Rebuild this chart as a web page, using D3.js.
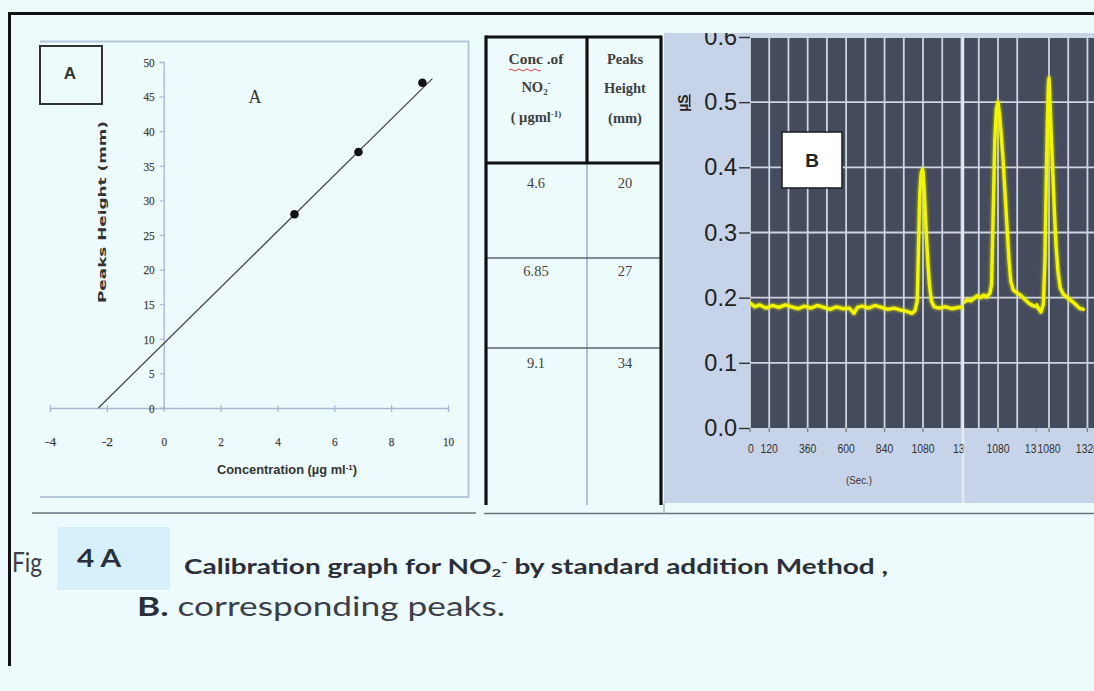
<!DOCTYPE html>
<html>
<head>
<meta charset="utf-8">
<script src="https://cdn.jsdelivr.net/npm/d3@7/dist/d3.min.js"></script>
<style>
  html, body { margin: 0; padding: 0; background: #eefbfc; }
  svg { display: block; }
</style>
</head>
<body>
<svg id="fig" width="1094" height="691"></svg>
<script>
// ---- Panel A: standard addition calibration ----
const concentration = [4.6, 6.85, 9.1];          // µg ml-1
const peakHeight = [28, 37, 47];                  // mm
const fitX = [-2.3, 9.45];                        // regression line end points
const fitY = [0, 47.6];
const xTicksA = [-4, -2, 0, 2, 4, 6, 8, 10];
const yTicksA = [0, 5, 10, 15, 20, 25, 30, 35, 40, 45, 50];

// ---- Table ----
const tableConc = ["4.6", "6.85", "9.1"];
const tablePeak = ["20", "27", "34"];

// ---- Panel B: detector trace (three joined windows) ----
const yTicksB = [0.0, 0.1, 0.2, 0.3, 0.4, 0.5, 0.6];
const time1 = [0,30,60,100,140,180,220,260,300,340,380,420,460,500,540,580,620,650,670,700,
               740,780,820,860,900,940,980,1010,1030,1044,1052,1060,1068,1076,1080,1086,1094,1102,1110,1120,
               1132,1150,1180,1220,1260,1300,1340];
const signal1 = [0.192,0.186,0.189,0.184,0.188,0.185,0.189,0.186,0.183,0.187,0.184,0.188,0.185,0.182,0.186,0.183,0.184,0.176,0.185,0.187,
                 0.184,0.188,0.185,0.182,0.184,0.181,0.179,0.176,0.180,0.195,0.28,0.36,0.39,0.397,0.395,0.37,0.33,0.29,0.255,0.22,
                 0.195,0.186,0.184,0.186,0.183,0.185,0.186];
const time2 = [870,890,910,930,950,970,990,1010,1030,1040,1050,1060,1070,1080,1090,1100,1112,1124,1136,1148,
               1160,1175,1195,1220,1245,1270,1295,1320];
const signal2 = [0.193,0.197,0.195,0.199,0.203,0.200,0.204,0.201,0.207,0.22,0.33,0.44,0.49,0.50,0.48,0.45,0.41,0.36,0.31,0.26,
                 0.225,0.212,0.208,0.204,0.198,0.192,0.188,0.186];
const time3 = [1000,1015,1030,1045,1055,1063,1070,1076,1080,1086,1094,1104,1114,1124,1136,1150,1170,1195,1220,1245,1270,1295];
const signal3 = [0.19,0.183,0.178,0.19,0.26,0.38,0.47,0.525,0.537,0.50,0.45,0.39,0.33,0.28,0.24,0.215,0.205,0.200,0.195,0.19,0.184,0.182];
const timeLabels1 = [0, 120, 360, 600, 840, 1080, 1340];
const timeLabels2 = [1080, 1320];
const timeLabels3 = [1080, 1320];

const svg = d3.select("#fig");
const W = 1094, H = 691;
const defs = svg.append("defs");

svg.append("rect").attr("width", W).attr("height", H).attr("fill", "#eefbfc");

// outer frame (top and left)
svg.append("line").attr("x1", 8).attr("x2", W).attr("y1", 13.5).attr("y2", 13.5)
  .attr("stroke", "#111").attr("stroke-width", 3);
svg.append("line").attr("x1", 9.5).attr("x2", 9.5).attr("y1", 12).attr("y2", 666)
  .attr("stroke", "#111").attr("stroke-width", 3);

// ================= Panel A =================
const gA = svg.append("g");
gA.append("path").attr("d", "M40,41.5 H468.5 V497 H40")
  .attr("fill", "none").attr("stroke", "#b8c8dc").attr("stroke-width", 2);
gA.append("line").attr("x1", 32).attr("x2", 476).attr("y1", 513).attr("y2", 513)
  .attr("stroke", "#6a727c").attr("stroke-width", 1.6);

const xA = d3.scaleLinear().domain([-4, 10]).range([50, 448]);
const yA = d3.scaleLinear().domain([0, 50]).range([408, 62]);

const axisCol = "#a9b6d2";
const xAxisA = gA.append("g").attr("transform", `translate(0,${yA(0)})`)
  .call(d3.axisBottom(xA).tickValues(xTicksA).tickSize(4).tickPadding(24).tickFormat(d => String(d)));
const yAxisA = gA.append("g").attr("transform", `translate(${xA(0)},0)`)
  .call(d3.axisLeft(yA).tickValues(yTicksA).tickSize(4).tickPadding(5).tickFormat(d => String(d)));
[xAxisA, yAxisA].forEach(ax => {
  ax.select(".domain").attr("stroke", axisCol).attr("stroke-width", 1.4);
  ax.selectAll(".tick line").attr("stroke", axisCol).attr("stroke-width", 1.2);
  ax.selectAll(".tick text").attr("fill", "#333").attr("stroke", "#555").attr("stroke-width", 0.25)
    .attr("font-family", "Liberation Serif, serif").attr("font-size", 13.5)
    .attr("textLength", d => String(d).length * 5.6).attr("lengthAdjust", "spacingAndGlyphs");
});
yAxisA.selectAll(".tick text").attr("x", -9);
xAxisA.selectAll(".tick line").attr("y1", -3);

// regression line
gA.append("line")
  .attr("x1", xA(fitX[0])).attr("y1", yA(fitY[0]))
  .attr("x2", xA(fitX[1])).attr("y2", yA(fitY[1]))
  .attr("stroke", "#4a4a4a").attr("stroke-width", 1.3);

// data points
gA.selectAll("circle.pt").data(concentration).join("circle")
  .attr("class", "pt")
  .attr("cx", d => xA(d)).attr("cy", (d, i) => yA(peakHeight[i]))
  .attr("r", 4.3).attr("fill", "#111");

// in-plot letter
gA.append("text").attr("x", 255).attr("y", 103).attr("text-anchor", "middle")
  .attr("font-family", "Liberation Serif, serif").attr("font-size", 18).attr("fill", "#333").text("A");

// axis titles
gA.append("text").attr("x", 287).attr("y", 474).attr("text-anchor", "middle")
  .attr("font-family", "Liberation Sans Narrow, Liberation Sans, Arial, sans-serif")
  .attr("font-size", 13).attr("font-weight", "bold").attr("fill", "#333")
  .attr("textLength", 140).attr("lengthAdjust", "spacingAndGlyphs")
  .html('Concentration (µg ml<tspan dy="-4" font-size="8">-1</tspan><tspan dy="4">)</tspan>');
gA.append("text").attr("transform", "translate(106,212) rotate(-90)").attr("text-anchor", "middle")
  .attr("font-family", "DejaVu Sans, sans-serif").attr("font-size", 11).attr("font-weight", "bold")
  .attr("fill", "#333").attr("textLength", 182).attr("lengthAdjust", "spacingAndGlyphs")
  .text("Peaks Height (mm)");

// panel label box
gA.append("rect").attr("x", 40).attr("y", 46).attr("width", 62).attr("height", 58)
  .attr("fill", "#eefbfc").attr("stroke", "#333").attr("stroke-width", 2);
gA.append("text").attr("x", 70).attr("y", 79).attr("text-anchor", "middle")
  .attr("font-family", "Liberation Sans, Arial, sans-serif").attr("font-weight", "bold")
  .attr("font-size", 17).attr("fill", "#333").text("A");

// ================= Table =================
const gT = svg.append("g");
const tL = 486, tR = 661, tMid = 587, tTop = 37, tHead = 163, tBot = 505;
const rowLines = [258, 348];
const colCx = [536, 625];
const rowTextY = [188, 276, 368];

gT.append("line").attr("x1", 484).attr("x2", 1094).attr("y1", 513.5).attr("y2", 513.5)
  .attr("stroke", "#6a727c").attr("stroke-width", 1.6);
gT.append("line").attr("x1", tMid).attr("x2", tMid).attr("y1", tHead).attr("y2", tBot)
  .attr("stroke", "#8b97b6").attr("stroke-width", 1.2);
gT.selectAll("line.row").data(rowLines).join("line").attr("class", "row")
  .attr("x1", tL).attr("x2", tR).attr("y1", d => d).attr("y2", d => d)
  .attr("stroke", "#5f6670").attr("stroke-width", 1.5);
const thick = [[tL, tTop, tR, tTop], [tL, tHead, tR, tHead], [tMid, tTop, tMid, tHead],
               [tL, tTop - 1.5, tL, tBot], [tR, tTop - 1.5, tR, tBot]];
gT.selectAll("line.thick").data(thick).join("line").attr("class", "thick")
  .attr("x1", d => d[0]).attr("y1", d => d[1]).attr("x2", d => d[2]).attr("y2", d => d[3])
  .attr("stroke", "#111").attr("stroke-width", 3.2);

const serif = "Liberation Serif, Times New Roman, serif";
const head1 = gT.append("g").attr("font-family", serif).attr("font-size", 14.5)
  .attr("font-weight", "bold").attr("fill", "#3f3f3f").attr("text-anchor", "middle");
head1.append("text").attr("x", colCx[0]).attr("y", 64).attr("textLength", 55).attr("lengthAdjust", "spacingAndGlyphs").text("Conc .of");
head1.append("text").attr("x", colCx[0]).attr("y", 92)
  .html('NO<tspan dy="3" font-size="9">2</tspan><tspan dy="-9" font-size="9">-</tspan>');
head1.append("text").attr("x", colCx[0]).attr("y", 122)
  .html('( µgml<tspan dy="-5" font-size="9">-1)</tspan>');
head1.append("text").attr("x", colCx[1]).attr("y", 64).text("Peaks");
head1.append("text").attr("x", colCx[1]).attr("y", 93).text("Height");
head1.append("text").attr("x", colCx[1]).attr("y", 123).text("(mm)");
gT.append("path").attr("d", "M509,70 q2,-2 4,0 t4,0 t4,0 t4,0 t4,0 t4,0 t4,0 t4,0")
  .attr("fill", "none").attr("stroke", "#e04040").attr("stroke-width", 1);

const body = gT.append("g").attr("font-family", serif).attr("font-size", 14.5)
  .attr("fill", "#444").attr("text-anchor", "middle");
body.selectAll("text.c").data(tableConc).join("text").attr("class", "c")
  .attr("x", colCx[0]).attr("y", (d, i) => rowTextY[i]).text(d => d);
body.selectAll("text.p").data(tablePeak).join("text").attr("class", "p")
  .attr("x", colCx[1]).attr("y", (d, i) => rowTextY[i]).text(d => d);

// ================= Panel B =================
const gB = svg.append("g");
const bLeft = 664, bTop = 33, bBot = 503;
const pLeft = 750, pRight = W, pTop = 37;
defs.append("clipPath").attr("id", "clipB")
  .append("rect").attr("x", bLeft).attr("y", bTop).attr("width", W - bLeft).attr("height", bBot - bTop);
const gBc = gB.append("g").attr("clip-path", "url(#clipB)");
gBc.append("rect").attr("x", bLeft).attr("y", bTop).attr("width", W - bLeft).attr("height", bBot - bTop)
  .attr("fill", "#c6d3e8");
gB.append("line").attr("x1", 664).attr("x2", 664).attr("y1", 503).attr("y2", 514)
  .attr("stroke", "#8b97b6").attr("stroke-width", 1);

const yB = d3.scaleLinear().domain([0, 0.6]).range([428, 37]);
gBc.append("rect").attr("x", pLeft).attr("y", pTop).attr("width", pRight - pLeft).attr("height", yB(0) - pTop)
  .attr("fill", "#444b5d");

// three joined windows, each with its own time scale
const pxPerSec = 0.1602;
const windows = [
  { x0: 750,  x1: 963,  t0: 0,   time: time1, sig: signal1, labels: timeLabels1, lx0: 735 },
  { x0: 963,  x1: 1036, t0: 1080 - (998 - 963) / pxPerSec,  time: time2, sig: signal2, labels: timeLabels2, lx0: 963 },
  { x0: 1036, x1: W,    t0: 1080 - (1049 - 1036) / pxPerSec, time: time3, sig: signal3, labels: timeLabels3, lx0: 1036 }
];
windows.forEach((w, i) => {
  w.x = d3.scaleLinear().domain([w.t0, w.t0 + (w.x1 - w.x0) / pxPerSec]).range([w.x0, w.x1]);
  w.clip = "clipW" + i;
  defs.append("clipPath").attr("id", w.clip)
    .append("rect").attr("x", w.x0).attr("y", 0).attr("width", w.x1 - w.x0 + 0.5).attr("height", H);
  w.lclip = "clipL" + i;
  defs.append("clipPath").attr("id", w.lclip)
    .append("rect").attr("x", w.lx0).attr("y", 0).attr("width", w.x1 - w.lx0 + 0.5).attr("height", H);
});

// grid
const gridCol = "#cfd4e2";
windows.forEach(w => {
  const [a, b] = w.x.domain();
  const gridT = d3.range(Math.ceil(a / 120) * 120, b + 0.1, 120);
  gBc.append("g").attr("clip-path", `url(#${w.clip})`)
    .selectAll("line").data(gridT).join("line")
    .attr("x1", d => w.x(d)).attr("x2", d => w.x(d)).attr("y1", pTop).attr("y2", yB(0))
    .attr("stroke", gridCol).attr("stroke-width", 1.8);
});
gBc.selectAll("line.hg").data(yTicksB.slice(1)).join("line").attr("class", "hg")
  .attr("x1", pLeft).attr("x2", pRight).attr("y1", d => yB(d)).attr("y2", d => yB(d))
  .attr("stroke", gridCol).attr("stroke-width", 1.8);
gBc.append("line").attr("x1", 963).attr("x2", 963).attr("y1", pTop).attr("y2", 503)
  .attr("stroke", "#e4eaf4").attr("stroke-width", 2.4);

// y axis
const yAxisB = gBc.append("g").attr("transform", `translate(${pLeft},0)`)
  .call(d3.axisLeft(yB).tickValues(yTicksB).tickSize(11).tickPadding(2).tickFormat(d3.format(".1f")));
yAxisB.select(".domain").remove();
yAxisB.selectAll(".tick line").attr("stroke", "#333").attr("stroke-width", 1.4);
yAxisB.selectAll(".tick text").attr("fill", "#222")
  .attr("font-family", "Liberation Sans, Arial, sans-serif").attr("font-size", 23.5);
gBc.append("text").attr("transform", "translate(688,103) rotate(-90)").attr("text-anchor", "middle")
  .attr("font-family", "Liberation Sans, Arial, sans-serif").attr("font-size", 14).attr("font-weight", "bold")
  .attr("fill", "#222").attr("text-decoration", "underline").text("µS");

// x tick marks and labels
windows.forEach(w => {
  const g = gBc.append("g").attr("clip-path", `url(#${w.lclip})`);
  g.selectAll("line").data(w.labels).join("line")
    .attr("x1", d => w.x(d)).attr("x2", d => w.x(d)).attr("y1", yB(0)).attr("y2", yB(0) + 4)
    .attr("stroke", "#777").attr("stroke-width", 1.2);
  g.selectAll("text").data(w.labels).join("text")
    .attr("x", d => w.x(d) + (d === 0 ? 1 : 0)).attr("y", 453).attr("text-anchor", "middle")
    .attr("font-family", "Liberation Sans, Arial, sans-serif")
    .attr("font-size", 12.5).attr("fill", "#333")
    .attr("textLength", d => String(d).length * 5.8).attr("lengthAdjust", "spacingAndGlyphs")
    .text(d => d);
});
gBc.append("text").attr("x", 859).attr("y", 484).attr("text-anchor", "middle")
  .attr("font-family", "Liberation Sans, Arial, sans-serif")
  .attr("font-size", 11.5).attr("fill", "#333")
  .attr("textLength", 26).attr("lengthAdjust", "spacingAndGlyphs").text("(Sec.)");

// yellow traces
const glow = defs.append("filter").attr("id", "glow");
glow.append("feGaussianBlur").attr("stdDeviation", 1.2);
windows.forEach(w => {
  const pts = w.time.map((t, i) => [t, w.sig[i]]);
  const line = d3.line().x(d => w.x(d[0])).y(d => yB(d[1]));
  const g = gBc.append("g").attr("clip-path", `url(#${w.clip})`);
  g.append("path").attr("d", line(pts)).attr("fill", "none").attr("stroke", "#d8e000")
    .attr("stroke-width", 5.5).attr("stroke-opacity", 0.5).attr("filter", "url(#glow)")
    .attr("stroke-linejoin", "round");
  g.append("path").attr("d", line(pts)).attr("fill", "none").attr("stroke", "#f2f500")
    .attr("stroke-width", 3.4).attr("stroke-linejoin", "round").attr("stroke-linecap", "round");
});

// panel label box B
gBc.append("rect").attr("x", 782).attr("y", 132).attr("width", 60).attr("height", 56)
  .attr("fill", "#ffffff").attr("stroke", "#222").attr("stroke-width", 1.6);
gBc.append("text").attr("x", 812).attr("y", 167).attr("text-anchor", "middle")
  .attr("font-family", "Liberation Sans, Arial, sans-serif").attr("font-weight", "bold")
  .attr("font-size", 19).attr("fill", "#222").text("B");

// ================= Caption =================
const cap = svg.append("g").attr("fill", "#2a2f3a").attr("font-family", "Lato, Open Sans, sans-serif");
cap.append("rect").attr("x", 57).attr("y", 527).attr("width", 113).attr("height", 63).attr("fill", "#d6f1fb");
cap.append("text").attr("x", 12).attr("y", 572).attr("font-size", 26).attr("fill", "#3a3f4a")
  .attr("textLength", 30).attr("lengthAdjust", "spacingAndGlyphs").text("Fig");
cap.append("text").attr("x", 77).attr("y", 567).attr("font-size", 24).attr("font-weight", "bold")
  .attr("textLength", 44).attr("lengthAdjust", "spacingAndGlyphs").text("4 A");
cap.append("text").attr("x", 184).attr("y", 574).attr("font-size", 20).attr("font-weight", "bold")
  .attr("textLength", 704).attr("lengthAdjust", "spacingAndGlyphs")
  .html('Calibration graph for NO<tspan dy="3" font-size="12">2</tspan><tspan dy="-11" font-size="12">-</tspan><tspan dy="8"> by standard addition  Method ,</tspan>');
cap.append("text").attr("x", 137).attr("y", 616).attr("font-size", 26).attr("fill", "#3a3f4a")
  .attr("textLength", 368).attr("lengthAdjust", "spacingAndGlyphs")
  .html('<tspan font-weight="bold" fill="#2a2f3a">B.</tspan> corresponding peaks.');
</script>
</body>
</html>
